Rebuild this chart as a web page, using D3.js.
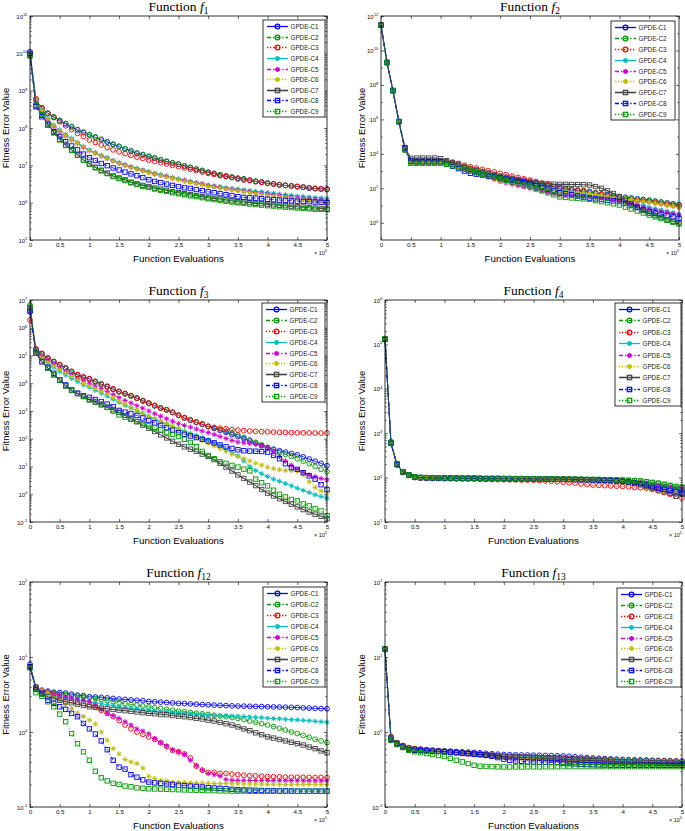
<!DOCTYPE html>
<html>
<head>
<meta charset="utf-8">
<script src="https://cdn.jsdelivr.net/npm/d3@7"></script>
<style>
body { margin: 0; background: #fff; }
</style>
</head>
<body>
<div id="viz"></div>
<script>
// function evaluations sampled every 1e4
var evals = [0, 10000, 20000, 30000, 40000, 50000, 60000, 70000, 80000, 90000,
  100000, 110000, 120000, 130000, 140000, 150000, 160000, 170000, 180000, 190000,
  200000, 210000, 220000, 230000, 240000, 250000, 260000, 270000, 280000, 290000,
  300000, 310000, 320000, 330000, 340000, 350000, 360000, 370000, 380000, 390000,
  400000, 410000, 420000, 430000, 440000, 450000, 460000, 470000, 480000, 490000,
  500000];
var xTicks = [0, 50000, 100000, 150000, 200000, 250000, 300000, 350000, 400000, 450000, 500000];
var xTickLabels = ["0", "0.5", "1", "1.5", "2", "2.5", "3", "3.5", "4", "4.5", "5"];
var names = ["GPDE-C1", "GPDE-C2", "GPDE-C3", "GPDE-C4", "GPDE-C5", "GPDE-C6", "GPDE-C7", "GPDE-C8", "GPDE-C9"];

var f1Ticks = [1e5, 1e6, 1e7, 1e8, 1e9, 1e10, 1e11];
var f2Ticks = [1e0, 1e2, 1e4, 1e6, 1e8, 1e10, 1e12];
var f3Ticks = [1e-1, 1e0, 1e1, 1e2, 1e3, 1e4, 1e5, 1e6, 1e7];
var f4Ticks = [1e1, 1e2, 1e3, 1e4, 1e5, 1e6];
var f12Ticks = [1e-1, 1e0, 1e1, 1e2];
var f13Ticks = [1e-1, 1e0, 1e1, 1e2];

// ---- Function f1
var f1C1 = [1.1e10, 5.6e8, 3.4e8, 2.45e8, 1.95e8, 1.58e8, 1.29e8, 1.07e8, 8.9e7, 7.6e7,
  6.5e7, 5.6e7, 4.8e7, 4.2e7, 3.6e7, 3.2e7, 2.75e7, 2.4e7, 2.1e7, 1.9e7,
  1.7e7, 1.55e7, 1.38e7, 1.26e7, 1.15e7, 1.07e7, 9.5e6, 8.7e6, 7.9e6, 7.2e6,
  6.5e6, 6.0e6, 5.5e6, 5.1e6, 4.8e6, 4.5e6, 4.3e6, 4.0e6, 3.7e6, 3.55e6,
  3.3e6, 3.2e6, 3.0e6, 2.9e6, 2.8e6, 2.7e6, 2.6e6, 2.45e6, 2.4e6, 2.35e6,
  2.3e6];
var f1C2 = [9.0e9, 6.0e8, 3.5e8, 2.5e8, 2.0e8, 1.6e8, 1.32e8, 1.1e8, 9.1e7, 7.8e7,
  6.7e7, 5.8e7, 5.0e7, 4.3e7, 3.7e7, 3.25e7, 2.8e7, 2.45e7, 2.15e7, 1.95e7,
  1.75e7, 1.58e7, 1.42e7, 1.29e7, 1.17e7, 1.08e7, 9.7e6, 8.8e6, 8.0e6, 7.3e6,
  6.6e6, 6.1e6, 5.6e6, 5.2e6, 4.85e6, 4.55e6, 4.3e6, 4.0e6, 3.75e6, 3.55e6,
  3.35e6, 3.2e6, 3.05e6, 2.9e6, 2.8e6, 2.7e6, 2.6e6, 2.5e6, 2.4e6, 2.3e6,
  2.25e6];
var f1C3 = [9.0e9, 6.0e8, 3.4e8, 2.45e8, 1.9e8, 1.48e8, 1.15e8, 9.1e7, 7.2e7, 5.9e7,
  4.8e7, 4.1e7, 3.5e7, 3.0e7, 2.6e7, 2.3e7, 2.05e7, 1.85e7, 1.66e7, 1.53e7,
  1.38e7, 1.28e7, 1.18e7, 1.09e7, 1.0e7, 9.2e6, 8.5e6, 7.8e6, 7.2e6, 6.6e6,
  6.1e6, 5.7e6, 5.3e6, 5.0e6, 4.7e6, 4.3e6, 4.05e6, 3.9e6, 3.65e6, 3.5e6,
  3.3e6, 3.15e6, 3.0e6, 2.9e6, 2.8e6, 2.7e6, 2.6e6, 2.5e6, 2.4e6, 2.35e6,
  2.3e6];
var f1C4 = [9.5e9, 5.6e8, 2.75e8, 1.8e8, 1.2e8, 8.9e7, 6.8e7, 5.3e7, 4.1e7, 3.2e7,
  2.6e7, 2.2e7, 1.85e7, 1.6e7, 1.36e7, 1.18e7, 1.05e7, 9.2e6, 8.3e6, 7.5e6,
  6.8e6, 6.1e6, 5.6e6, 5.2e6, 4.7e6, 4.3e6, 4.05e6, 3.7e6, 3.45e6, 3.25e6,
  2.95e6, 2.8e6, 2.7e6, 2.5e6, 2.4e6, 2.3e6, 2.2e6, 2.1e6, 2.0e6, 1.95e6,
  1.85e6, 1.78e6, 1.7e6, 1.63e6, 1.58e6, 1.5e6, 1.48e6, 1.42e6, 1.38e6, 1.34e6,
  1.3e6];
var f1C5 = [9.0e9, 5.3e8, 2.6e8, 1.65e8, 1.08e8, 8.0e7, 6.1e7, 4.8e7, 3.8e7, 3.0e7,
  2.45e7, 2.1e7, 1.78e7, 1.52e7, 1.3e7, 1.13e7, 1.0e7, 8.9e6, 8.0e6, 7.2e6,
  6.5e6, 5.9e6, 5.4e6, 5.0e6, 4.55e6, 4.2e6, 3.9e6, 3.6e6, 3.35e6, 3.1e6,
  2.85e6, 2.7e6, 2.55e6, 2.4e6, 2.28e6, 2.15e6, 2.05e6, 1.95e6, 1.85e6, 1.78e6,
  1.7e6, 1.62e6, 1.55e6, 1.48e6, 1.42e6, 1.36e6, 1.31e6, 1.27e6, 1.23e6, 1.19e6,
  1.16e6];
var f1C6 = [9.0e9, 5.8e8, 2.9e8, 1.75e8, 1.15e8, 8.4e7, 6.4e7, 5.0e7, 3.9e7, 3.1e7,
  2.5e7, 2.1e7, 1.78e7, 1.52e7, 1.3e7, 1.12e7, 9.9e6, 8.8e6, 7.9e6, 7.1e6,
  6.4e6, 5.8e6, 5.3e6, 4.85e6, 4.4e6, 4.05e6, 3.75e6, 3.45e6, 3.2e6, 3.0e6,
  2.75e6, 2.6e6, 2.45e6, 2.3e6, 2.18e6, 2.05e6, 1.95e6, 1.85e6, 1.75e6, 1.67e6,
  1.58e6, 1.5e6, 1.43e6, 1.37e6, 1.31e6, 1.25e6, 1.2e6, 1.15e6, 1.1e6, 1.05e6,
  1.0e6];
var f1C7 = [9.0e9, 3.9e8, 2.2e8, 1.3e8, 7.6e7, 5.0e7, 3.5e7, 2.6e7, 1.9e7, 1.4e7,
  1.1e7, 8.9e6, 7.4e6, 6.2e6, 5.2e6, 4.6e6, 4.1e6, 3.55e6, 3.2e6, 2.9e6,
  2.7e6, 2.45e6, 2.3e6, 2.15e6, 1.95e6, 1.85e6, 1.74e6, 1.63e6, 1.55e6, 1.45e6,
  1.35e6, 1.3e6, 1.25e6, 1.18e6, 1.12e6, 1.06e6, 1.04e6, 1.0e6, 9.6e5, 9.4e5,
  9.0e5, 8.8e5, 8.5e5, 8.3e5, 8.1e5, 7.8e5, 7.6e5, 7.3e5, 7.2e5, 7.0e5,
  6.8e5];
var f1C8 = [1.0e10, 3.7e8, 2.0e8, 1.2e8, 8.0e7, 5.9e7, 4.3e7, 3.3e7, 2.6e7, 2.0e7,
  1.6e7, 1.35e7, 1.12e7, 9.8e6, 8.5e6, 7.5e6, 6.6e6, 5.9e6, 5.3e6, 4.7e6,
  4.1e6, 3.7e6, 3.45e6, 3.15e6, 2.9e6, 2.7e6, 2.5e6, 2.4e6, 2.25e6, 2.1e6,
  1.95e6, 1.85e6, 1.75e6, 1.63e6, 1.55e6, 1.45e6, 1.38e6, 1.35e6, 1.32e6, 1.28e6,
  1.23e6, 1.2e6, 1.17e6, 1.15e6, 1.12e6, 1.1e6, 1.08e6, 1.06e6, 1.04e6, 1.02e6,
  1.0e6];
var f1C9 = [8.5e9, 4.1e8, 2.3e8, 1.28e8, 7.4e7, 4.8e7, 3.4e7, 2.5e7, 1.85e7, 1.38e7,
  1.07e7, 8.6e6, 7.1e6, 6.0e6, 5.0e6, 4.4e6, 3.9e6, 3.4e6, 3.05e6, 2.75e6,
  2.55e6, 2.32e6, 2.15e6, 2.0e6, 1.85e6, 1.74e6, 1.63e6, 1.53e6, 1.45e6, 1.36e6,
  1.27e6, 1.21e6, 1.16e6, 1.1e6, 1.04e6, 9.9e5, 9.6e5, 9.2e5, 8.9e5, 8.6e5,
  8.3e5, 8.1e5, 7.8e5, 7.6e5, 7.4e5, 7.2e5, 7.0e5, 6.85e5, 6.7e5, 6.6e5,
  6.5e5];

// ---- Function f2
var f2C1 = [3.2e11, 2.1e9, 4.8e7, 7.6e5, 2.2e4, 4.0e3, 4.0e3, 4.0e3, 4.0e3, 4.0e3,
  4.0e3, 3.5e3, 2.8e3, 2.2e3, 1.8e3, 1.4e3, 1.15e3, 930, 760, 620,
  500, 440, 380, 330, 290, 250, 210, 175, 145, 120,
  100, 89, 79, 72, 66, 59, 52, 47, 42, 37,
  33, 30, 27.5, 24.5, 22.4, 20, 17.8, 15.8, 14.1, 12.6,
  11.2];
var f2C2 = [2.8e11, 1.9e9, 4.5e7, 7.2e5, 1.7e4, 3.2e3, 3.2e3, 3.2e3, 3.2e3, 3.2e3,
  3.2e3, 3.2e3, 2.6e3, 2.2e3, 1.75e3, 1.4e3, 1.15e3, 950, 780, 630,
  525, 435, 365, 300, 250, 215, 185, 165, 145, 125,
  112, 100, 89, 79, 72, 65, 55, 47, 39, 33,
  28, 26, 24.5, 23, 21.4, 20, 17.8, 15.8, 13.8, 12,
  10.7];
var f2C3 = [3.0e11, 2.0e9, 4.6e7, 7.4e5, 1.8e4, 3.2e3, 3.2e3, 3.2e3, 3.2e3, 3.2e3,
  3.2e3, 3.5e3, 3.2e3, 2.75e3, 2.2e3, 1.8e3, 1.5e3, 1.26e3, 1.05e3, 890,
  740, 620, 510, 430, 355, 300, 250, 200, 160, 125,
  100, 91, 83, 76, 71, 65, 52, 43, 35, 28,
  23, 22, 20.4, 19, 18.2, 17, 14.8, 12.9, 11.2, 10,
  8.7];
var f2C4 = [3.0e11, 2.0e9, 4.7e7, 7.3e5, 1.8e4, 3.2e3, 3.2e3, 3.2e3, 3.2e3, 3.2e3,
  3.2e3, 2.8e3, 2.35e3, 1.85e3, 1.45e3, 1.12e3, 955, 795, 675, 560,
  480, 400, 340, 280, 240, 200, 162, 132, 107, 87,
  71, 63, 56, 50, 45, 40, 35.5, 31.6, 28.8, 25.7,
  23, 18.6, 15.1, 12, 9.8, 7.9, 6.6, 5.5, 4.6, 3.8,
  3.16];
var f2C5 = [3.0e11, 2.0e9, 4.7e7, 7.4e5, 1.7e4, 2.8e3, 2.8e3, 2.8e3, 2.8e3, 2.8e3,
  2.8e3, 2.5e3, 2.0e3, 1.6e3, 1.26e3, 1.0e3, 760, 575, 435, 325,
  245, 205, 170, 141, 120, 100, 83, 69, 58, 48,
  40, 38, 37, 35.5, 34.7, 33, 30, 27.5, 24.5, 22.4,
  20, 15.8, 12.6, 10, 7.9, 6.3, 5.4, 4.6, 3.9, 3.3,
  2.8];
var f2C6 = [3.0e11, 2.0e9, 4.7e7, 7.4e5, 1.8e4, 2.8e3, 2.8e3, 2.8e3, 2.8e3, 2.8e3,
  2.8e3, 2.5e3, 2.1e3, 1.7e3, 1.38e3, 1.12e3, 850, 645, 490, 370,
  280, 250, 225, 200, 178, 158, 132, 110, 91, 76,
  63, 60, 57.5, 55, 52.5, 50, 44.7, 40, 35.5, 31.6,
  28.2, 25, 22.4, 20, 17.8, 15.8, 13.8, 12, 10.5, 9.1,
  7.9];
var f2C7 = [3.0e11, 2.0e9, 4.7e7, 7.4e5, 2.3e4, 5.5e3, 5.7e3, 5.7e3, 5.7e3, 5.7e3,
  5.2e3, 4.0e3, 3.2e3, 2.5e3, 1.6e3, 1.26e3, 1.0e3, 810, 660, 540,
  450, 380, 330, 280, 245, 215, 200, 190, 182, 174,
  170, 170, 166, 166, 162, 155, 126, 100, 71, 50,
  33, 20, 12.6, 7.9, 5.2, 3.5, 2.6, 2.0, 1.55, 1.23,
  1.0];
var f2C8 = [3.0e11, 2.0e9, 4.7e7, 7.6e5, 2.2e4, 3.8e3, 3.5e3, 3.5e3, 3.5e3, 3.5e3,
  3.5e3, 2.5e3, 1.86e3, 1.38e3, 1.0e3, 740, 660, 590, 510, 455,
  400, 340, 290, 245, 210, 178, 141, 112, 89, 71,
  56, 49, 42, 36, 31, 27, 24.5, 22.4, 20.4, 18.6,
  17, 13.2, 10, 7.6, 5.9, 4.5, 3.7, 3.1, 2.6, 2.2,
  1.8];
var f2C9 = [3.0e11, 2.0e9, 4.7e7, 7.4e5, 1.7e4, 2.8e3, 2.8e3, 2.8e3, 2.8e3, 2.8e3,
  2.8e3, 2.5e3, 2.0e3, 1.6e3, 1.26e3, 1.0e3, 810, 660, 540, 435,
  355, 290, 235, 190, 155, 126, 95, 72, 55, 42,
  31.6, 29.5, 27.5, 25.7, 24.5, 23, 19.5, 17, 14.5, 12.6,
  10.7, 8.1, 6.3, 4.8, 3.7, 2.8, 2.2, 1.74, 1.38, 1.07,
  0.85];

// ---- Function f3
var f3C1 = [3.8e6, 1.7e5, 1.15e5, 8.0e4, 6.0e4, 4.6e4, 3.5e4, 2.6e4, 2.0e4, 1.65e4,
  1.45e4, 1.15e4, 9.3e3, 7.6e3, 6.1e3, 5.0e3, 4.2e3, 3.5e3, 2.9e3, 2.3e3,
  1.9e3, 1.55e3, 1.27e3, 1.1e3, 890, 700, 560, 460, 390, 330,
  275, 234, 200, 170, 141, 120, 100, 83, 69, 56,
  47, 42, 37, 33, 29.5, 26.3, 22.4, 18.6, 15.5, 12.9,
  10.7];
var f3C2 = [6.6e6, 1.5e5, 1.12e5, 7.8e4, 5.9e4, 4.5e4, 3.4e4, 2.55e4, 1.95e4, 1.6e4,
  1.4e4, 1.12e4, 9.0e3, 7.4e3, 6.0e3, 4.9e3, 4.1e3, 3.45e3, 2.85e3, 2.3e3,
  1.88e3, 1.53e3, 1.25e3, 1.08e3, 880, 700, 570, 470, 400, 335,
  280, 245, 215, 186, 162, 138, 112, 91, 74, 60,
  48, 40, 33, 27.5, 23, 19, 15.5, 12.6, 10, 7.9,
  6.5];
var f3C3 = [1.9e6, 1.75e5, 1.2e5, 8.2e4, 6.1e4, 4.7e4, 3.6e4, 2.7e4, 2.05e4, 1.7e4,
  1.45e4, 1.18e4, 9.5e3, 7.8e3, 6.3e3, 5.1e3, 4.3e3, 3.6e3, 2.95e3, 2.4e3,
  1.95e3, 1.6e3, 1.3e3, 1.12e3, 900, 720, 580, 480, 400, 340,
  280, 255, 240, 230, 215, 205, 195, 190, 185, 180,
  177, 174, 171, 169, 167, 165, 163, 162, 161, 160,
  160];
var f3C4 = [5.0e6, 1.26e5, 8.7e4, 5.6e4, 3.8e4, 2.6e4, 2.0e4, 1.5e4, 1.15e4, 8.7e3,
  7.2e3, 5.6e3, 4.4e3, 3.4e3, 2.6e3, 2.05e3, 1.62e3, 1.29e3, 1.02e3, 810,
  645, 525, 427, 347, 282, 229, 190, 158, 132, 110,
  91, 71, 55, 42, 32, 24, 15.8, 10, 7.2, 5.5,
  4.4, 3.5, 2.95, 2.45, 2.0, 1.66, 1.38, 1.15, 0.95, 0.83,
  0.72];
var f3C5 = [5.0e6, 1.26e5, 9.5e4, 6.9e4, 5.0e4, 3.5e4, 2.6e4, 2.0e4, 1.5e4, 1.23e4,
  1.0e4, 7.9e3, 6.3e3, 5.0e3, 3.9e3, 3.0e3, 2.4e3, 1.95e3, 1.55e3, 1.26e3,
  1.0e3, 795, 645, 525, 427, 347, 302, 263, 224, 190,
  166, 141, 120, 102, 87, 76, 71, 68, 63, 58,
  50, 35.5, 23, 15.8, 11, 7.6, 6.2, 5.0, 4.3, 3.7,
  3.3];
var f3C6 = [5.0e6, 1.2e5, 8.3e4, 5.75e4, 4.2e4, 3.16e4, 2.35e4, 1.74e4, 1.32e4, 1.0e4,
  7.9e3, 6.3e3, 5.0e3, 4.0e3, 3.0e3, 2.24e3, 1.74e3, 1.35e3, 1.05e3, 810,
  630, 510, 417, 340, 275, 224, 178, 138, 110, 87,
  69, 55, 44, 35, 28, 23, 19, 15.8, 13.2, 11.2,
  9.5, 8.3, 7.6, 7.2, 7.1, 6.6, 5.0, 2.8, 1.78, 1.32,
  1.1];
var f3C7 = [5.0e6, 1.2e5, 6.0e4, 3.5e4, 2.0e4, 1.3e4, 8.0e3, 5.5e3, 4.2e3, 3.3e3,
  2.5e3, 2.05e3, 1.66e3, 1.35e3, 1.1e3, 890, 690, 525, 410, 310,
  240, 182, 138, 107, 81, 63, 51, 42, 35, 28,
  23, 17.8, 12.9, 9.5, 6.9, 5.0, 3.7, 2.75, 2.05, 1.48,
  1.1, 0.87, 0.69, 0.55, 0.44, 0.35, 0.28, 0.23, 0.19, 0.16,
  0.13];
var f3C8 = [4.0e6, 1.2e5, 6.0e4, 3.8e4, 2.3e4, 1.32e4, 8.7e3, 5.75e3, 4.4e3, 3.55e3,
  3.1e3, 2.6e3, 2.2e3, 1.78e3, 1.45e3, 1.05e3, 910, 795, 690, 560,
  457, 372, 302, 245, 204, 166, 145, 126, 110, 95,
  83, 71, 60, 51, 45, 40, 37, 36, 35.5, 34.7,
  33, 25, 19, 12.6, 9.1, 7.9, 6.0, 4.6, 3.5, 2.2,
  1.48];
var f3C9 = [5.5e6, 1.2e5, 6.2e4, 3.6e4, 2.05e4, 1.3e4, 8.0e3, 5.6e3, 4.3e3, 3.4e3,
  2.6e3, 2.15e3, 1.78e3, 1.38e3, 1.0e3, 725, 600, 500, 420, 350,
  290, 245, 210, 175, 145, 120, 95, 74, 52, 35,
  25, 19, 15, 13, 11, 9.5, 8.0, 7.0, 3.5, 2.6,
  2.0, 1.4, 1.0, 0.8, 0.65, 0.58, 0.45, 0.38, 0.3, 0.25,
  0.17];

// ---- Function f4
var f4C1 = [1.3e5, 580, 200, 135, 114, 103, 100, 99, 98, 98,
  97, 97, 97, 96, 96, 96, 96, 95, 95, 95,
  95, 95, 94, 94, 94, 94, 93, 93, 93, 92,
  92, 91, 91, 90, 90, 89, 88, 87, 86, 85,
  83, 81, 78, 75, 72, 68, 64, 60, 57, 53,
  50];
var f4C2 = [1.35e5, 600, 205, 135, 115, 104, 101, 100, 99, 99,
  98, 98, 97, 97, 97, 97, 96, 96, 96, 96,
  95, 95, 95, 95, 94, 94, 94, 94, 93, 93,
  93, 92, 92, 92, 91, 91, 91, 90, 90, 89,
  88, 87, 85, 83, 80, 77, 74, 70, 66, 63,
  60];
var f4C3 = [1.3e5, 650, 190, 130, 112, 100, 97, 96, 95, 95,
  94, 94, 93, 93, 92, 92, 91, 91, 90, 90,
  90, 89, 89, 88, 88, 87, 86, 85, 83, 81,
  79, 77, 75, 72, 70, 68, 67, 66, 65, 64,
  63, 62, 60, 59, 58, 54, 50, 46, 42, 38,
  35];
var f4C4 = [1.3e5, 600, 200, 135, 114, 103, 100, 99, 98, 98,
  97, 97, 96, 96, 96, 96, 95, 95, 95, 95,
  95, 94, 94, 94, 94, 93, 93, 93, 92, 92,
  91, 91, 90, 90, 89, 88, 88, 87, 86, 85,
  83, 81, 79, 76, 73, 70, 66, 63, 60, 57,
  55];
var f4C5 = [1.3e5, 600, 200, 135, 114, 103, 100, 99, 98, 98,
  97, 97, 96, 96, 96, 96, 95, 95, 95, 95,
  95, 94, 94, 94, 94, 93, 93, 93, 92, 92,
  91, 91, 90, 90, 89, 88, 88, 87, 86, 85,
  84, 82, 80, 78, 75, 71, 68, 65, 62, 60,
  58];
var f4C6 = [1.3e5, 600, 200, 135, 114, 103, 100, 99, 98, 98,
  97, 97, 96, 96, 96, 95, 95, 95, 95, 94,
  94, 94, 94, 93, 93, 93, 92, 92, 92, 91,
  91, 90, 90, 89, 88, 87, 86, 85, 84, 82,
  80, 76, 72, 66, 60, 55, 52, 50, 48, 46,
  45];
var f4C7 = [1.3e5, 600, 200, 135, 115, 103, 100, 99, 98, 98,
  97, 97, 96, 96, 96, 96, 95, 95, 95, 95,
  94, 94, 94, 94, 93, 93, 93, 92, 92, 92,
  91, 91, 90, 90, 89, 88, 87, 86, 85, 83,
  81, 78, 74, 69, 63, 58, 53, 48, 44, 38,
  42];
var f4C8 = [1.3e5, 600, 200, 135, 114, 103, 100, 99, 98, 98,
  97, 97, 97, 96, 96, 96, 96, 95, 95, 95,
  95, 95, 94, 94, 94, 94, 93, 93, 93, 92,
  92, 91, 91, 90, 90, 89, 88, 87, 86, 85,
  83, 80, 77, 73, 68, 62, 58, 55, 52, 48,
  45];
var f4C9 = [1.35e5, 600, 205, 135, 115, 104, 101, 100, 99, 99,
  98, 98, 97, 97, 97, 97, 96, 96, 96, 96,
  95, 95, 95, 95, 94, 94, 94, 94, 93, 93,
  93, 92, 92, 92, 91, 91, 91, 90, 90, 89,
  88, 87, 86, 84, 81, 78, 75, 71, 67, 63,
  61];

// ---- Function f12
var f12C1 = [8.0, 3.8, 3.6, 3.5, 3.4, 3.35, 3.3, 3.2, 3.1, 3.05,
  2.95, 2.93, 2.9, 2.85, 2.8, 2.75, 2.72, 2.68, 2.65, 2.62,
  2.55, 2.53, 2.5, 2.47, 2.44, 2.41, 2.39, 2.37, 2.35, 2.32,
  2.3, 2.28, 2.27, 2.25, 2.23, 2.22, 2.21, 2.2, 2.19, 2.18,
  2.17, 2.16, 2.15, 2.14, 2.13, 2.12, 2.1, 2.08, 2.07, 2.05,
  2.04];
var f12C2 = [7.4, 4.0, 3.45, 3.4, 3.3, 3.2, 3.15, 3.08, 3.02, 2.96,
  2.9, 2.8, 2.72, 2.63, 2.54, 2.45, 2.39, 2.33, 2.28, 2.22,
  2.17, 2.11, 2.06, 2.0, 1.95, 1.9, 1.86, 1.82, 1.78, 1.75,
  1.71, 1.67, 1.63, 1.6, 1.56, 1.52, 1.46, 1.4, 1.35, 1.29,
  1.24, 1.18, 1.12, 1.06, 1.0, 0.955, 0.9, 0.85, 0.8, 0.76,
  0.72];
var f12C3 = [7.4, 4.0, 3.6, 3.45, 3.2, 2.95, 2.75, 2.62, 2.5, 2.41,
  2.29, 2.17, 1.94, 1.77, 1.61, 1.42, 1.24, 1.1, 1.0, 0.93,
  0.86, 0.8, 0.72, 0.64, 0.57, 0.545, 0.51, 0.45, 0.35, 0.31,
  0.29, 0.29, 0.28, 0.28, 0.275, 0.27, 0.265, 0.262, 0.26, 0.257,
  0.255, 0.253, 0.252, 0.25, 0.25, 0.249, 0.248, 0.248, 0.247, 0.247,
  0.246];
var f12C4 = [7.3, 3.8, 3.45, 3.3, 3.1, 2.95, 2.85, 2.78, 2.7, 2.62,
  2.53, 2.45, 2.38, 2.31, 2.25, 2.17, 2.12, 2.08, 2.04, 1.99,
  1.95, 1.91, 1.87, 1.85, 1.81, 1.79, 1.76, 1.75, 1.72, 1.69,
  1.67, 1.66, 1.65, 1.64, 1.63, 1.63, 1.61, 1.59, 1.57, 1.55,
  1.53, 1.51, 1.5, 1.48, 1.46, 1.45, 1.43, 1.41, 1.39, 1.37,
  1.35];
var f12C5 = [7.3, 3.8, 3.45, 3.3, 3.2, 3.1, 2.95, 2.85, 2.75, 2.65,
  2.53, 2.29, 2.0, 1.77, 1.65, 1.52, 1.37, 1.24, 1.1, 1.03,
  0.95, 0.82, 0.72, 0.65, 0.58, 0.545, 0.5, 0.42, 0.36, 0.31,
  0.28, 0.27, 0.257, 0.232, 0.228, 0.227, 0.226, 0.226, 0.225, 0.225,
  0.225, 0.224, 0.224, 0.224, 0.224, 0.224, 0.223, 0.223, 0.223, 0.223,
  0.223];
var f12C6 = [7.6, 4.0, 3.6, 3.3, 2.95, 2.62, 2.33, 2.06, 1.79, 1.61,
  1.44, 1.28, 1.0, 0.78, 0.6, 0.51, 0.43, 0.4, 0.38, 0.33,
  0.257, 0.24, 0.227, 0.222, 0.215, 0.213, 0.211, 0.21, 0.209, 0.208,
  0.207, 0.206, 0.205, 0.205, 0.204, 0.204, 0.203, 0.203, 0.202, 0.202,
  0.201, 0.201, 0.201, 0.2, 0.2, 0.2, 0.2, 0.2, 0.199, 0.199,
  0.199];
var f12C7 = [7.4, 3.95, 3.2, 2.95, 2.83, 2.65, 2.53, 2.45, 2.35, 2.26,
  2.17, 2.13, 2.08, 2.04, 2.0, 1.96, 1.92, 1.88, 1.85, 1.81,
  1.77, 1.75, 1.71, 1.7, 1.66, 1.63, 1.6, 1.56, 1.52, 1.49,
  1.44, 1.4, 1.34, 1.29, 1.24, 1.17, 1.1, 1.04, 0.975, 0.92,
  0.86, 0.83, 0.795, 0.76, 0.73, 0.7, 0.67, 0.63, 0.6, 0.56,
  0.53];
var f12C8 = [7.4, 3.7, 3.3, 2.65, 2.41, 2.17, 2.0, 1.77, 1.6, 1.3,
  1.1, 0.94, 0.76, 0.58, 0.42, 0.34, 0.32, 0.27, 0.25, 0.23,
  0.215, 0.21, 0.207, 0.203, 0.2, 0.195, 0.193, 0.19, 0.188, 0.185,
  0.181, 0.179, 0.177, 0.175, 0.172, 0.17, 0.169, 0.168, 0.167, 0.166,
  0.165, 0.165, 0.164, 0.164, 0.164, 0.163, 0.163, 0.163, 0.163, 0.163,
  0.163];
var f12C9 = [7.2, 3.34, 3.0, 2.53, 2.17, 1.73, 1.37, 0.955, 0.7, 0.545,
  0.42, 0.3, 0.245, 0.223, 0.207, 0.2, 0.19, 0.186, 0.18, 0.178,
  0.175, 0.174, 0.173, 0.172, 0.171, 0.17, 0.169, 0.168, 0.167, 0.166,
  0.165, 0.165, 0.164, 0.164, 0.163, 0.163, 0.163, 0.162, 0.162, 0.162,
  0.162, 0.162, 0.162, 0.162, 0.162, 0.162, 0.162, 0.162, 0.162, 0.162,
  0.162];

// ---- Function f13
var f13C1 = [12.7, 0.78, 0.70, 0.65, 0.61, 0.6, 0.59, 0.58, 0.57, 0.565,
  0.56, 0.555, 0.55, 0.545, 0.54, 0.535, 0.528, 0.52, 0.513, 0.506,
  0.5, 0.498, 0.496, 0.494, 0.492, 0.49, 0.488, 0.486, 0.484, 0.482,
  0.48, 0.474, 0.468, 0.462, 0.456, 0.45, 0.446, 0.442, 0.438, 0.434,
  0.43, 0.428, 0.426, 0.424, 0.422, 0.42, 0.418, 0.416, 0.414, 0.412,
  0.41];
var f13C2 = [12.7, 0.82, 0.71, 0.66, 0.61, 0.59, 0.58, 0.575, 0.565, 0.56,
  0.555, 0.547, 0.539, 0.531, 0.523, 0.515, 0.507, 0.499, 0.491, 0.483,
  0.475, 0.472, 0.469, 0.466, 0.463, 0.46, 0.457, 0.454, 0.451, 0.448,
  0.445, 0.442, 0.44, 0.438, 0.436, 0.434, 0.432, 0.43, 0.428, 0.426,
  0.424, 0.422, 0.42, 0.418, 0.416, 0.414, 0.412, 0.41, 0.408, 0.406,
  0.405];
var f13C3 = [12.7, 0.87, 0.72, 0.66, 0.62, 0.6, 0.59, 0.58, 0.57, 0.56,
  0.553, 0.545, 0.537, 0.529, 0.521, 0.513, 0.505, 0.497, 0.489, 0.481,
  0.473, 0.47, 0.467, 0.464, 0.461, 0.458, 0.455, 0.452, 0.449, 0.446,
  0.443, 0.441, 0.439, 0.437, 0.435, 0.433, 0.431, 0.429, 0.427, 0.425,
  0.423, 0.421, 0.419, 0.417, 0.415, 0.413, 0.411, 0.409, 0.407, 0.405,
  0.403];
var f13C4 = [12.7, 0.82, 0.70, 0.65, 0.60, 0.585, 0.575, 0.57, 0.56, 0.555,
  0.55, 0.542, 0.534, 0.526, 0.518, 0.51, 0.502, 0.494, 0.486, 0.478,
  0.47, 0.468, 0.466, 0.464, 0.462, 0.46, 0.456, 0.452, 0.448, 0.444,
  0.44, 0.438, 0.436, 0.434, 0.432, 0.43, 0.428, 0.426, 0.424, 0.422,
  0.42, 0.418, 0.416, 0.414, 0.412, 0.41, 0.408, 0.406, 0.404, 0.402,
  0.40];
var f13C5 = [12.7, 0.8, 0.68, 0.62, 0.57, 0.56, 0.555, 0.55, 0.545, 0.54,
  0.535, 0.528, 0.52, 0.512, 0.505, 0.498, 0.49, 0.482, 0.474, 0.466,
  0.458, 0.454, 0.45, 0.446, 0.442, 0.438, 0.434, 0.43, 0.426, 0.422,
  0.418, 0.414, 0.41, 0.406, 0.402, 0.398, 0.394, 0.391, 0.388, 0.385,
  0.383, 0.381, 0.379, 0.377, 0.376, 0.375, 0.374, 0.373, 0.372, 0.371,
  0.37];
var f13C6 = [12.7, 0.82, 0.7, 0.64, 0.6, 0.58, 0.57, 0.56, 0.55, 0.545,
  0.54, 0.532, 0.524, 0.516, 0.508, 0.5, 0.492, 0.484, 0.476, 0.468,
  0.46, 0.455, 0.45, 0.445, 0.44, 0.435, 0.43, 0.425, 0.42, 0.415,
  0.41, 0.405, 0.4, 0.395, 0.39, 0.385, 0.38, 0.376, 0.372, 0.369,
  0.366, 0.363, 0.36, 0.358, 0.356, 0.355, 0.354, 0.353, 0.352, 0.351,
  0.35];
var f13C7 = [12.7, 0.84, 0.71, 0.65, 0.61, 0.59, 0.58, 0.57, 0.56, 0.555,
  0.55, 0.542, 0.534, 0.526, 0.518, 0.51, 0.502, 0.494, 0.486, 0.478,
  0.47, 0.466, 0.462, 0.458, 0.454, 0.45, 0.446, 0.442, 0.438, 0.434,
  0.43, 0.427, 0.424, 0.421, 0.418, 0.415, 0.412, 0.409, 0.406, 0.403,
  0.4, 0.398, 0.396, 0.394, 0.392, 0.39, 0.388, 0.386, 0.384, 0.382,
  0.38];
var f13C8 = [12.7, 0.8, 0.69, 0.63, 0.58, 0.57, 0.565, 0.56, 0.555, 0.55,
  0.545, 0.538, 0.53, 0.522, 0.514, 0.506, 0.498, 0.49, 0.475, 0.455,
  0.435, 0.42, 0.41, 0.405, 0.4, 0.398, 0.396, 0.394, 0.392, 0.39,
  0.385, 0.38, 0.376, 0.372, 0.369, 0.366, 0.364, 0.362, 0.361, 0.36,
  0.36, 0.36, 0.36, 0.36, 0.36, 0.36, 0.36, 0.36, 0.36, 0.36,
  0.36];
var f13C9 = [12.7, 0.78, 0.68, 0.62, 0.57, 0.545, 0.53, 0.515, 0.5, 0.485,
  0.47, 0.445, 0.42, 0.4, 0.38, 0.36, 0.35, 0.347, 0.345, 0.343,
  0.342, 0.342, 0.342, 0.342, 0.343, 0.343, 0.343, 0.344, 0.344, 0.344,
  0.345, 0.345, 0.345, 0.345, 0.345, 0.345, 0.345, 0.345, 0.345, 0.345,
  0.345, 0.345, 0.345, 0.345, 0.345, 0.345, 0.345, 0.345, 0.345, 0.345,
  0.345];

// line / marker style per variant (C1..C9)
var styles = [
  {color: "#0000ff", dash: null,      marker: "circle"},
  {color: "#009900", dash: "4,2,1,2", marker: "circle"},
  {color: "#ff0000", dash: "1,2",     marker: "circle"},
  {color: "#00bfbf", dash: null,      marker: "star"},
  {color: "#d000d0", dash: "4,2,1,2", marker: "star"},
  {color: "#c0c000", dash: "1,2",     marker: "star"},
  {color: "#444444", dash: null,      marker: "square"},
  {color: "#0000ff", dash: "4,2,1,2", marker: "square"},
  {color: "#009900", dash: "1,2",     marker: "square"}
];

// panel layout: box = [left, top, right, bottom], legend = [x, y, w, h]
var panels = [
  {sub: "1",  series: [f1C1, f1C2, f1C3, f1C4, f1C5, f1C6, f1C7, f1C8, f1C9],
   domain: [1e5, 1e11], ticks: f1Ticks, minor: true,
   box: [30, 16, 327, 240], legend: [263, 20, 62, 97], ylabX: 9},
  {sub: "2",  series: [f2C1, f2C2, f2C3, f2C4, f2C5, f2C6, f2C7, f2C8, f2C9],
   domain: [1e-1, 1e12], ticks: f2Ticks, minor: false,
   box: [381, 16, 679, 240], legend: [611, 21, 64, 99], ylabX: 365},
  {sub: "3",  series: [f3C1, f3C2, f3C3, f3C4, f3C5, f3C6, f3C7, f3C8, f3C9],
   domain: [1e-1, 1e7], ticks: f3Ticks, minor: true,
   box: [30, 300, 327, 522], legend: [262, 303, 63, 99], ylabX: 9},
  {sub: "4",  series: [f4C1, f4C2, f4C3, f4C4, f4C5, f4C6, f4C7, f4C8, f4C9],
   domain: [1e1, 1e6], ticks: f4Ticks, minor: true,
   box: [385, 300, 682, 522], legend: [615, 303, 66, 103], ylabX: 365},
  {sub: "12", series: [f12C1, f12C2, f12C3, f12C4, f12C5, f12C6, f12C7, f12C8, f12C9],
   domain: [1e-1, 1e2], ticks: f12Ticks, minor: true,
   box: [30, 582, 327, 807], legend: [263, 587, 62, 100], ylabX: 9},
  {sub: "13", series: [f13C1, f13C2, f13C3, f13C4, f13C5, f13C6, f13C7, f13C8, f13C9],
   domain: [1e-1, 1e2], ticks: f13Ticks, minor: true,
   box: [385, 582, 682, 807], legend: [617, 588, 64, 99], ylabX: 365}
];

var starPath = "M-2.6,0H2.6M0,-2.6V2.6M-1.8,-1.8L1.8,1.8M-1.8,1.8L1.8,-1.8";

var svg = d3.select("#viz").append("svg")
    .attr("width", 685)
    .attr("height", 831)
    .style("font-family", "'Liberation Sans', Arial, Helvetica, sans-serif");

function drawMarker(sel, st, cx, cy, sw) {
    if (st.marker == "circle") {
        sel.append("circle")
            .attr("cx", cx).attr("cy", cy).attr("r", 2.4)
            .attr("fill", "none").attr("stroke", st.color).attr("stroke-width", sw);
    } else if (st.marker == "square") {
        sel.append("rect")
            .attr("x", cx - 2.2).attr("y", cy - 2.2)
            .attr("width", 4.4).attr("height", 4.4)
            .attr("fill", "none").attr("stroke", st.color).attr("stroke-width", sw);
    } else {
        sel.append("path")
            .attr("transform", "translate(" + cx + "," + cy + ")")
            .attr("d", starPath)
            .attr("fill", "none").attr("stroke", st.color).attr("stroke-width", sw + 0.1);
    }
}

function supLabel(sel, base, exp, supSize) {
    sel.append("tspan").text(base);
    sel.append("tspan").attr("dy", -2.6).attr("font-size", supSize).text(exp);
}

panels.forEach(function(p) {
    var left = p.box[0], top = p.box[1], right = p.box[2], bottom = p.box[3];
    var x = d3.scaleLinear().domain([0, 500000]).range([left, right]);
    var y = d3.scaleLog().domain(p.domain).range([bottom, top]);
    var g = svg.append("g");

    // series
    p.series.forEach(function(vals, i) {
        var st = styles[i];
        var pts = vals.map(function(v, j) { return [evals[j], v]; })
                      .filter(function(d) { return d[0] !== undefined; });
        var sg = g.append("g");
        sg.append("path")
            .datum(pts)
            .attr("fill", "none")
            .attr("stroke", st.color)
            .attr("stroke-width", st.marker == "square" && !st.dash ? 1.1 : 0.8)
            .attr("stroke-dasharray", st.dash)
            .attr("d", d3.line()
                .x(function(d) { return x(d[0]); })
                .y(function(d) { return y(d[1]); }));
        pts.forEach(function(d) { drawMarker(sg, st, x(d[0]), y(d[1]), 0.9); });
    });

    // axes (ticks pointing inward on all four sides)
    var ax = g.append("g").attr("class", "axes");
    var xb = ax.append("g").attr("transform", "translate(0," + bottom + ")")
        .call(d3.axisBottom(x).tickValues(xTicks)
            .tickFormat(function(d, i) { return xTickLabels[i]; })
            .tickSize(-3).tickPadding(3));
    ax.append("g").attr("transform", "translate(0," + top + ")")
        .call(d3.axisTop(x).tickValues(xTicks).tickFormat("").tickSize(-3));
    ax.append("g").attr("transform", "translate(" + left + ",0)")
        .call(d3.axisLeft(y).tickValues(p.ticks).tickFormat("").tickSize(-3));
    ax.append("g").attr("transform", "translate(" + right + ",0)")
        .call(d3.axisRight(y).tickValues(p.ticks).tickFormat("").tickSize(-3));

    var minorVals = [];
    var lo = Math.floor(Math.log10(p.domain[0])), hi = Math.ceil(Math.log10(p.domain[1]));
    for (var e = lo; e < hi; e++) {
        if (p.minor) {
            for (var k = 2; k < 10; k++) minorVals.push(k * Math.pow(10, e));
        } else if (p.ticks.indexOf(Math.pow(10, e)) < 0 && e > lo) {
            minorVals.push(Math.pow(10, e));
        }
    }
    ax.append("g").attr("transform", "translate(" + left + ",0)")
        .call(d3.axisLeft(y).tickValues(minorVals).tickFormat("").tickSize(-1.7));
    ax.append("g").attr("transform", "translate(" + right + ",0)")
        .call(d3.axisRight(y).tickValues(minorVals).tickFormat("").tickSize(-1.7));

    ax.selectAll(".domain").remove();
    ax.selectAll(".tick line").attr("stroke", "#000").attr("stroke-width", 0.6);
    xb.selectAll(".tick text").attr("font-size", 6.2).attr("fill", "#111")
        .attr("font-family", "'Liberation Sans', Arial, sans-serif");

    ax.append("rect")
        .attr("x", left).attr("y", top)
        .attr("width", right - left).attr("height", bottom - top)
        .attr("fill", "none").attr("stroke", "#000").attr("stroke-width", 0.8);

    // y tick labels as powers of ten
    p.ticks.forEach(function(t) {
        var lab = ax.append("text")
            .attr("x", left - 2.5)
            .attr("y", y(t) + 2.5)
            .attr("text-anchor", "end")
            .attr("font-size", 6)
            .attr("fill", "#111");
        supLabel(lab, "10", Math.round(Math.log10(t)), 4.3);
    });

    // x multiplier
    var mult = ax.append("text")
        .attr("x", right)
        .attr("y", bottom + 15)
        .attr("text-anchor", "end")
        .attr("font-size", 5.5)
        .attr("fill", "#111");
    supLabel(mult, "\u00d7 10", "5", 4);

    // axis titles
    g.append("text")
        .attr("x", (left + right) / 2)
        .attr("y", bottom + 21.5)
        .attr("text-anchor", "middle")
        .attr("font-size", 9.8)
        .text("Function Evaluations");
    g.append("text")
        .attr("transform", "translate(" + p.ylabX + "," + (top + bottom) / 2 + ") rotate(-90)")
        .attr("text-anchor", "middle")
        .attr("font-size", 9.5)
        .text("Fitness Error Value");

    // panel title
    var title = g.append("text")
        .attr("x", (left + right) / 2)
        .attr("y", top - 5)
        .attr("text-anchor", "middle")
        .attr("font-family", "'Liberation Serif', 'Times New Roman', serif")
        .attr("font-size", 13.5);
    title.append("tspan").text("Function ");
    title.append("tspan").attr("font-style", "italic").text("f");
    title.append("tspan").attr("dy", 2.5).attr("font-size", 9.5).text(p.sub);

    // legend
    var L = p.legend;
    var lg = g.append("g");
    lg.append("rect")
        .attr("x", L[0]).attr("y", L[1]).attr("width", L[2]).attr("height", L[3])
        .attr("fill", "#fff").attr("stroke", "#000").attr("stroke-width", 0.8);
    var rowH = (L[3] - 12) / 8;
    names.forEach(function(n, i) {
        var st = styles[i];
        var ly = Math.round(L[1] + 6 + i * rowH) + 0.5;
        lg.append("line")
            .attr("x1", L[0] + 4).attr("x2", L[0] + 25)
            .attr("y1", ly).attr("y2", ly)
            .attr("stroke", st.color)
            .attr("stroke-width", st.marker == "square" && !st.dash ? 1.6 : 1.3)
            .attr("stroke-dasharray", st.dash ? (st.dash == "1,2" ? "1.3,1.7" : "4,2,1.3,2") : null);
        drawMarker(lg, st, L[0] + 14.5, ly, 1.2);
        lg.append("text")
            .attr("x", L[0] + 27.5)
            .attr("y", ly + 2.2)
            .attr("font-size", 6.3)
            .attr("fill", "#222")
            .text(n);
    });
});
</script>
</body>
</html>
